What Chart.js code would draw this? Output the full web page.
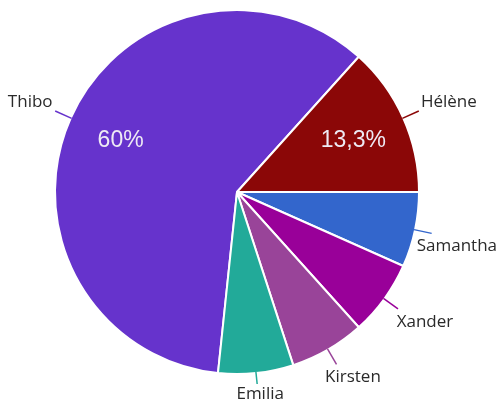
<!DOCTYPE html>
<html lang="fr">
<head>
    <meta charset="UTF-8">
    <title>Répartition</title>
    <script src="https://cdn.jsdelivr.net/npm/chart.js"></script>
    <style>
        html, body { margin: 0; padding: 0; background: #ffffff; }
        .chart-box { position: relative; width: 500px; height: 403px; }
    </style>
</head>
<body>
    <div class="chart-box">
        <canvas id="pieChart"></canvas>
    </div>

    <script>
        // data (share of answers)
        const names = ['Thibo', 'Hélène', 'Samantha', 'Xander', 'Kirsten', 'Emilia'];
        const counts = [9, 2, 1, 1, 1, 1];
        const sliceColors = ['#6633cc', '#8b0707', '#3366cc', '#990099', '#994499', '#22aa99'];

        const total = counts.reduce((a, b) => a + b, 0);

        function pctText(v) {
            const p = Math.round(v / total * 1000) / 10;
            return String(p).replace('.', ',') + '%';
        }

        // leader lines, outside names and inside percentages
        const outsideLabels = {
            id: 'outsideLabels',
            afterDatasetsDraw(chart) {
                const ctx = chart.ctx;
                const arcs = chart.getDatasetMeta(0).data;
                ctx.save();
                arcs.forEach((arc, i) => {
                    const mid = (arc.startAngle + arc.endAngle) / 2;
                    const dx = Math.cos(mid), dy = Math.sin(mid);
                    const r = arc.outerRadius;

                    ctx.font = '17px "Open Sans", sans-serif';
                    const w = ctx.measureText(names[i]).width;
                    let len = 17;
                    let x1 = arc.x + dx * (r + len), y1 = arc.y + dy * (r + len);
                    let ty = y1 + (dy < 0 ? -9 : 13);
                    if (ty > chart.height - 9) {
                        // no room below: shorten the leader and pull the text up
                        ty = chart.height - 9;
                        len = Math.max(8, (ty - 10 - arc.y) / dy - r);
                        x1 = arc.x + dx * (r + len);
                        y1 = arc.y + dy * (r + len);
                    }

                    ctx.strokeStyle = sliceColors[i];
                    ctx.lineWidth = 1.5;
                    ctx.beginPath();
                    ctx.moveTo(arc.x + dx * (r - 1), arc.y + dy * (r - 1));
                    ctx.lineTo(x1, y1);
                    ctx.stroke();

                    ctx.fillStyle = '#2a2a2a';
                    ctx.textAlign = 'center';
                    ctx.textBaseline = 'middle';
                    let tx = x1 + dx * (w / 2 + 5);
                    tx = Math.min(tx, chart.width - 3 - w / 2);
                    tx = Math.max(tx, 3 + w / 2);
                    ctx.fillText(names[i], tx, ty);

                    if (counts[i] / total >= 0.1) {
                        ctx.font = '23px "Liberation Sans", Arial, sans-serif';
                        ctx.fillStyle = '#eeeaf4';
                        ctx.fillText(pctText(counts[i]), arc.x + dx * r * 0.7, arc.y + dy * r * 0.7);
                    }
                });
                ctx.restore();
            }
        };

        new Chart(document.getElementById('pieChart'), {
            type: 'pie',
            data: {
                labels: names,
                datasets: [{
                    data: counts,
                    backgroundColor: sliceColors,
                    borderColor: '#ffffff',
                    borderWidth: 2
                }]
            },
            options: {
                responsive: true,
                maintainAspectRatio: false,
                animation: false,
                rotation: 186,
                layout: { padding: { left: 54, right: 80, top: 9, bottom: 28 } },
                plugins: {
                    legend: { display: false },
                    tooltip: { enabled: false }
                }
            },
            plugins: [outsideLabels]
        });
    </script>
</body>
</html>
